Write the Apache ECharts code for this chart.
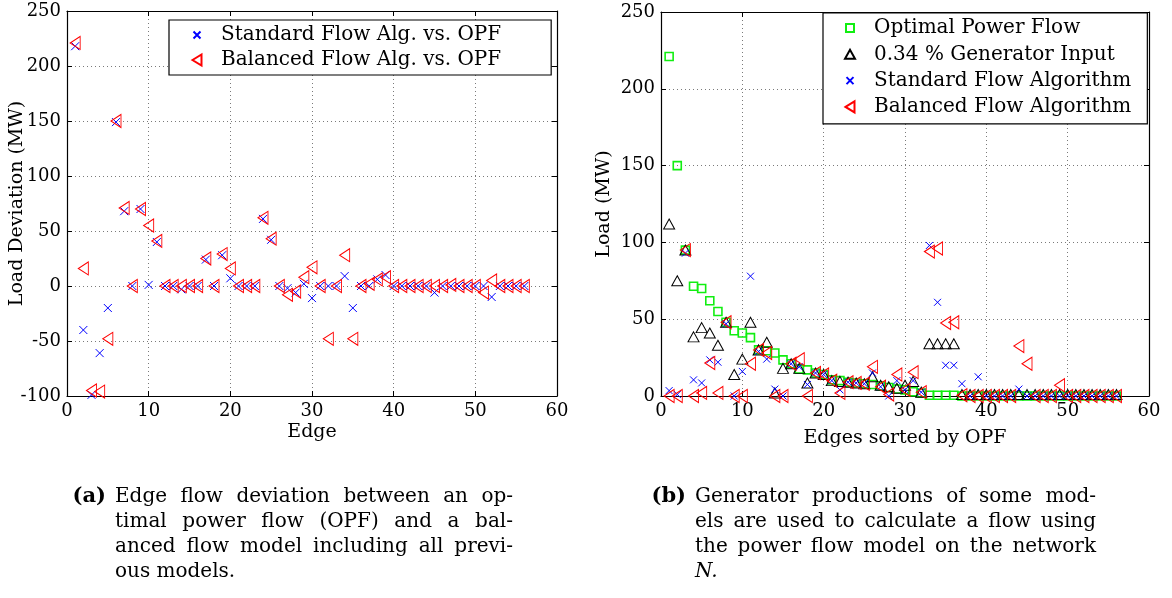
<!DOCTYPE html>
<html><head><meta charset="utf-8">
<script src="https://cdn.jsdelivr.net/npm/echarts@6/dist/echarts.min.js"></script>
<style>html,body{margin:0;padding:0;background:#fff}#c{width:1172px;height:598px}</style>
</head><body><div id="c"></div>
<script>
const edges = [1,2,3,4,5,6,7,8,9,10,11,12,13,14,15,16,17,18,19,20,21,22,23,24,25,26,27,28,29,30,31,32,33,34,35,36,37,38,39,40,41,42,43,44,45,46,47,48,49,50,51,52,53,54,55,56];
const leftStd = [218,-40,-99,-61,-20,149,68,0,70,1, 40,0,0,-3,0,0,24,0,28,7, 0,0,0,61,42,0,-2,-6,2,-11, 0,0,0,9,-20,0,0,6,10,0, 0,0,0,0,-6,0,0,0,0,0, 0,-10,0,0,0,0];
const leftBal = [221,16,-95,-96,-48,150,71,0,70,55, 41,0,0,0,0,0,25,0,29,16, 0,0,0,62,43,0,-8,-5,8,17, 0,-48,0,28,-48,0,2,6,8,0, 0,0,0,0,0,0,1,0,0,0, -6,5,0,0,0,0];
const rightOpf = [221,150,95,71.5,70,62,55,48,42.5,41, 38,30,29.5,28,23.5,21,17.5,17,15,14, 10.5,10,9,8.5,8,7.5,6.5,5.5,4.6,4, 2.8,2,0.5,0.5,0.5,0.5,0,0,0,0, 0,0,0,0,0,0,0,0,0,0, 0,0,0,0,0,0];
const rightGen = [112,75,95,38.5,44.5,41,33,48,14,24, 48,30,35,2,18,21,18,8.5,15,14, 10,9.5,9,8.5,8,12.5,7,6,5,7, 9.5,2.5,34,34,34,34,1,1,1,1, 1,1,1,1,1,1,1,1,1,1, 1,1,1,1,1,1];
const rightStd = [3.5,1,93,10.5,8.5,23.5,22,47,0,16, 78,29,24,4.5,0,21,19,7.5,15,14, 10,4,9,8.5,8,15,6,0,10,4, 10,2.5,98,61,20,20,8,0,12.5,0, 0,0,0,4.5,0,0,0,0,0,0, 0,0,0,0,0,0];
const rightBal = [0,0,95,0,2,21.5,2,48,0,0, 21,30,28,0,0,21,24,0,15,14, 10,2,9,8.5,8,19,6,1,14,4, 15.5,2.5,94,96,47.5,48,0.5,0,0,0, 0,0,0,32.5,21,0,0,0,7,0, 0,0,0,0,0,0];
const xTicks = [0,10,20,30,40,50,60];
const leftYTicks = [-100,-50,0,50,100,150,200,250];
const rightYTicks = [0,50,100,150,200,250];
const captionA = ['Edge flow deviation between an op-', 'timal power flow (OPF) and a bal-', 'anced flow model including all previ-', 'ous models.'];
const captionB = ['Generator productions of some mod-', 'els are used to calculate a flow using', 'the power flow model on the network', 'N.'];

const FONT = 'DejaVu Serif';
const X_SYM = 'path://M0,0L10,10M10,0L0,10';
const LT_SYM = 'path://M0,6L10,0L10,12Z';
// legend icons: glyph on the left of a fixed 24x13 box so text sits further right
const LEG_X = 'path://M1.5,3L8.5,10M8.5,3L1.5,10M0,0M24,13';
const LEG_LT = 'path://M0.5,6.5L9.5,1L9.5,12ZM0,0M24,13';
const LEG_SQ = 'path://M1,2.5L9,2.5L9,10.5L1,10.5ZM0,0M24,13';
const LEG_TRI = 'path://M0,11L5,2L10,11ZM0,0M24,13';
const pair = a => a.map((v, i) => [edges[i], v]);

const chart = echarts.init(document.getElementById('c'), null, {renderer: 'canvas'});

function xAx(gi, pos, show, name, gap) {
  return {
    type: 'value', gridIndex: gi, position: pos, min: xTicks[0], max: xTicks[xTicks.length-1], interval: 10,
    axisLine: {show: true, onZero: false, lineStyle: {color: '#000', width: 1.2}},
    axisTick: {show: true, inside: true, length: 5, lineStyle: {color: '#000'}},
    axisLabel: {show: show, color: '#000', fontFamily: FONT, fontSize: 18, margin: 6},
    splitLine: {show: show, lineStyle: {color: '#7a7a7a', type: [1, 3], width: 1}},
    name: name, nameLocation: 'middle', nameGap: gap, nameMoveOverlap: false,
    nameTextStyle: {color: '#000', fontFamily: FONT, fontSize: 19}
  };
}
function yAx(gi, pos, show, ticks, name, gap) {
  return {
    type: 'value', gridIndex: gi, position: pos, min: ticks[0], max: ticks[ticks.length-1], interval: 50,
    axisLine: {show: true, onZero: false, lineStyle: {color: '#000', width: 1.2}},
    axisTick: {show: true, inside: true, length: 5, lineStyle: {color: '#000'}},
    axisLabel: {show: show, color: '#000', fontFamily: FONT, fontSize: 18, margin: 6},
    splitLine: {show: show, lineStyle: {color: '#7a7a7a', type: [1, 3], width: 1}},
    name: name, nameLocation: 'middle', nameGap: gap, nameRotate: 90, nameMoveOverlap: false,
    nameTextStyle: {color: '#000', fontFamily: FONT, fontSize: 19}
  };
}
function sc(name, xi, yi, data, sym, size, color, bw) {
  return {
    name: name, type: 'scatter', xAxisIndex: xi, yAxisIndex: yi, data: data,
    symbol: sym, symbolSize: size, symbolKeepAspect: false,
    itemStyle: {color: 'transparent', borderColor: color, borderWidth: bw, opacity: 1},
    emphasis: {disabled: true}, animation: false, z: 3
  };
}

// caption text, justified like the original paragraph
const measureCtx = document.createElement('canvas').getContext('2d');
function captionEls(lines, x0, x1, yStart, lineGap, font, lastFont) {
  const els = [];
  lines.forEach((line, li) => {
    const y = yStart + li * lineGap;
    const isLast = li === lines.length - 1;
    const f = isLast && lastFont ? lastFont : font;
    if (isLast) {
      els.push({type: 'text', x: x0, y: y, style: {text: line, fill: '#000', font: f, textVerticalAlign: 'middle'}});
      return;
    }
    measureCtx.font = f;
    const words = line.split(' ');
    const widths = words.map(w => measureCtx.measureText(w).width);
    const total = widths.reduce((s, w) => s + w, 0);
    const gap = (x1 - x0 - total) / (words.length - 1);
    let x = x0;
    words.forEach((w, wi) => {
      els.push({type: 'text', x: x, y: y, style: {text: w, fill: '#000', font: f, textVerticalAlign: 'middle'}});
      x += widths[wi] + gap;
    });
  });
  return els;
}
const CAP_FONT = '20px "DejaVu Serif"';
const graphics = [].concat(
  [{type: 'text', x: 106, y: 497, style: {text: '(a)', fill: '#000', font: 'bold 21px "DejaVu Serif"', textVerticalAlign: 'middle', textAlign: 'right'}}],
  captionEls(captionA, 115, 513, 497, 25, CAP_FONT),
  [{type: 'text', x: 686, y: 497, style: {text: '(b)', fill: '#000', font: 'bold 21px "DejaVu Serif"', textVerticalAlign: 'middle', textAlign: 'right'}}],
  captionEls(captionB, 695, 1096, 497, 25, CAP_FONT, 'italic 20px "DejaVu Serif"')
);

const option = {
  backgroundColor: '#fff',
  animation: false,
  grid: [
    {left: 67, top: 11, width: 490, height: 385, containLabel: false},
    {left: 661, top: 12, width: 488, height: 384, containLabel: false}
  ],
  xAxis: [
    xAx(0, 'bottom', true, 'Edge', 27),
    xAx(0, 'top', false, '', 0),
    xAx(1, 'bottom', true, 'Edges sorted by OPF', 33),
    xAx(1, 'top', false, '', 0)
  ],
  yAxis: [
    yAx(0, 'left', true, leftYTicks, 'Load Deviation (MW)', 40),
    yAx(0, 'right', false, leftYTicks, '', 0),
    yAx(1, 'left', true, rightYTicks, 'Load (MW)', 47),
    yAx(1, 'right', false, rightYTicks, '', 0)
  ],
  legend: [
    {
      data: [
        {name: 'Standard Flow Alg. vs. OPF', icon: LEG_X},
        {name: 'Balanced Flow Alg. vs. OPF', icon: LEG_LT}
      ],
      orient: 'vertical', left: 169, top: 20,
      itemWidth: 24, itemHeight: 13, itemGap: 5,
      padding: [5, 50, 5, 22],
      backgroundColor: '#fff', borderColor: '#000', borderWidth: 1.2, borderRadius: 0,
      textStyle: {color: '#000', fontFamily: FONT, fontSize: 20},
      selectedMode: false
    },
    {
      data: [
        {name: 'Optimal Power Flow', icon: LEG_SQ},
        {name: '0.34 % Generator Input', icon: LEG_TRI},
        {name: 'Standard Flow Algorithm', icon: LEG_X},
        {name: 'Balanced Flow Algorithm', icon: LEG_LT}
      ],
      orient: 'vertical', left: 823, top: 13,
      itemWidth: 24, itemHeight: 13, itemGap: 6.3,
      padding: [5, 16, 7, 21],
      backgroundColor: '#fff', borderColor: '#000', borderWidth: 1.2, borderRadius: 0,
      textStyle: {color: '#000', fontFamily: FONT, fontSize: 20},
      selectedMode: false
    }
  ],
  series: [
    sc('Standard Flow Alg. vs. OPF', 0, 0, pair(leftStd), X_SYM, [8, 8], '#0000ff', 1),
    sc('Balanced Flow Alg. vs. OPF', 0, 0, pair(leftBal), LT_SYM, [10, 13], '#ff0000', 1),
    sc('Optimal Power Flow', 2, 2, pair(rightOpf), 'rect', [8, 8], '#11ee11', 1.6),
    sc('0.34 % Generator Input', 2, 2, pair(rightGen), 'triangle', [11, 10], '#000000', 1),
    sc('Standard Flow Algorithm', 2, 2, pair(rightStd), X_SYM, [7, 7], '#0000ff', 1),
    sc('Balanced Flow Algorithm', 2, 2, pair(rightBal), LT_SYM, [10, 13], '#ff0000', 1)
  ],
  graphic: graphics
};
chart.setOption(option);
</script></body></html>
